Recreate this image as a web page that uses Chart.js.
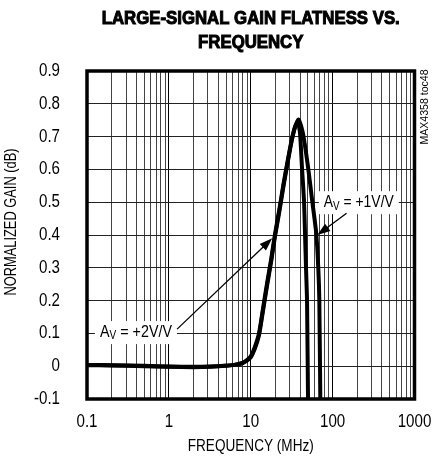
<!DOCTYPE html>
<html>
<head>
<meta charset="utf-8">
<script src="https://cdn.jsdelivr.net/npm/chart.js@4.4.1/dist/chart.umd.min.js"></script>
<style>
  html, body { margin: 0; padding: 0; background: #fff; }
  #c { display: block; }
</style>
</head>
<body>
<canvas id="c" width="434" height="457"></canvas>
<script>
const FONT = "'Liberation Sans', Arial, sans-serif";

// axis ticks
const X_DECADES = [0.1, 1, 10, 100, 1000];
const X_LABELS = ['0.1', '1', '10', '100', '1000'];
const Y_TICKS = [-0.1, 0, 0.1, 0.2, 0.3, 0.4, 0.5, 0.6, 0.7, 0.8, 0.9];
const Y_LABELS = ['-0.1', '0', '0.1', '0.2', '0.3', '0.4', '0.5', '0.6', '0.7', '0.8', '0.9'];

// AV = +2V/V (MHz, dB)
const FREQ_2V = [0.1, 0.2, 0.5, 1, 2, 3.2, 5, 6.3, 7.9, 8.9, 10, 11.2, 12.6, 14.1, 15.8, 17.8, 19.7, 22.4, 25.1, 28.2, 31.6, 34.7, 37.5, 40, 42.2, 44.7, 46, 47.3, 48.7, 50.1, 51];
const GAIN_2V = [0.003, 0.002, 0.0, -0.002, -0.003, -0.002, 0.001, 0.004, 0.01, 0.018, 0.03, 0.058, 0.1, 0.175, 0.252, 0.328, 0.4, 0.48, 0.555, 0.625, 0.69, 0.73, 0.746, 0.71, 0.607, 0.506, 0.405, 0.3, 0.2, -0.107, -0.2];

// AV = +1V/V (MHz, dB)
const FREQ_1V = [0.1, 0.2, 0.5, 1, 2, 3.2, 5, 6.3, 7.9, 8.9, 10, 11.2, 12.6, 14.1, 15.8, 17.8, 19.7, 22.4, 25.1, 28.2, 31.6, 34.7, 38.5, 43.4, 50.1, 56.2, 63.1, 66.8, 68.8, 70.8, 72];
const GAIN_1V = [0.004, 0.003, 0.001, -0.001, -0.002, -0.001, 0.002, 0.004, 0.009, 0.016, 0.027, 0.053, 0.094, 0.168, 0.245, 0.321, 0.393, 0.473, 0.549, 0.62, 0.686, 0.728, 0.752, 0.71, 0.607, 0.506, 0.405, 0.3, 0.2, -0.107, -0.2];

// annotation anchors, in data units
const LABEL_2V = { f: 0.144, g: 0.104 };
const ARROW_2V = { from: { f: 1.26, g: 0.113 }, to: { f: 18.3, g: 0.39 } };
const LABEL_1V = { f: 78, g: 0.5 };
const ARROW_1V = { from: { f: 148, g: 0.466 }, to: { f: 65, g: 0.40 } };

function pts(fs, gs) { return fs.map((f, i) => ({ x: f, y: gs[i] })); }

function isDecade(v) {
  const l = Math.log10(v);
  return Math.abs(l - Math.round(l)) < 1e-6;
}

// narrow text: scale horizontally, either to a target width or by a factor
function txt(ctx, s, x, y, o) {
  ctx.save();
  ctx.translate(x, y);
  if (o.rot) ctx.rotate(o.rot);
  ctx.font = `${o.weight || 'normal'} ${o.size}px ${FONT}`;
  const w = ctx.measureText(s).width;
  const sx = o.width ? o.width / w : (o.sx || 1);
  ctx.scale(sx, 1);
  ctx.textAlign = o.align || 'center';
  ctx.textBaseline = 'middle';
  ctx.fillStyle = '#000';
  ctx.fillText(s, 0, 0);
  if (o.stroke) { ctx.strokeStyle = '#000'; ctx.lineWidth = o.stroke; ctx.strokeText(s, 0, 0); }
  ctx.restore();
  return w * sx;
}

function drawAv(ctx, x, y, rest, width) {
  ctx.save();
  ctx.font = `17px ${FONT}`;
  const wA = ctx.measureText('A').width;
  const wRest = ctx.measureText(rest).width;
  ctx.font = `12px ${FONT}`;
  const wV = ctx.measureText('V').width;
  const sx = width / (wA + wV + wRest);
  ctx.fillStyle = '#fff';
  ctx.fillRect(x - 5, y - 11, width + 10, 23);
  ctx.translate(x, y);
  ctx.scale(sx, 1);
  ctx.fillStyle = '#000';
  ctx.textBaseline = 'middle';
  ctx.textAlign = 'left';
  ctx.font = `17px ${FONT}`;
  ctx.fillText('A', 0, 0);
  ctx.font = `12px ${FONT}`;
  ctx.fillText('V', wA, 4);
  ctx.font = `17px ${FONT}`;
  ctx.fillText(rest, wA + wV, 0);
  ctx.restore();
}

function drawArrow(ctx, x1, y1, x2, y2) {
  const a = Math.atan2(y2 - y1, x2 - x1);
  const len = 13, hw = 4.5;
  ctx.save();
  ctx.strokeStyle = '#000';
  ctx.fillStyle = '#000';
  ctx.lineWidth = 1.3;
  ctx.beginPath();
  ctx.moveTo(x1, y1);
  ctx.lineTo(x2 - Math.cos(a) * len * 0.8, y2 - Math.sin(a) * len * 0.8);
  ctx.stroke();
  ctx.beginPath();
  ctx.moveTo(x2, y2);
  ctx.lineTo(x2 - Math.cos(a) * len - Math.sin(a) * hw, y2 - Math.sin(a) * len + Math.cos(a) * hw);
  ctx.lineTo(x2 - Math.cos(a) * len + Math.sin(a) * hw, y2 - Math.sin(a) * len - Math.cos(a) * hw);
  ctx.closePath();
  ctx.fill();
  ctx.restore();
}

const decor = {
  id: 'decor',
  afterDatasetsDraw(chart) {
    const { ctx, chartArea: a, scales } = chart;
    const xs = scales.x, ys = scales.y;
    const px = (p) => [xs.getPixelForValue(p.f), ys.getPixelForValue(p.g)];

    // frame
    ctx.save();
    ctx.strokeStyle = '#000';
    ctx.lineWidth = 3.5;
    ctx.strokeRect(a.left, a.top, a.right - a.left, a.bottom - a.top);
    ctx.restore();

    // annotations
    let [lx, ly] = px(LABEL_2V);
    drawAv(ctx, lx, ly, ' = +2V/V', 72);
    let [x1, y1] = px(ARROW_2V.from), [x2, y2] = px(ARROW_2V.to);
    drawArrow(ctx, x1, y1, x2, y2);
    [lx, ly] = px(LABEL_1V);
    drawAv(ctx, lx, ly, ' = +1V/V', 70);
    [x1, y1] = px(ARROW_1V.from); [x2, y2] = px(ARROW_1V.to);
    drawArrow(ctx, x1, y1, x2, y2);
  },
  afterDraw(chart) {
    const { ctx, chartArea: a, scales } = chart;
    const cx = (a.left + a.right) / 2;

    // tick labels
    X_DECADES.forEach((v, i) => txt(ctx, X_LABELS[i], scales.x.getPixelForValue(v), 422, { size: 18, sx: 0.84 }));
    Y_TICKS.forEach((v, i) => txt(ctx, Y_LABELS[i], a.left - 27, scales.y.getPixelForValue(v), { size: 18, sx: 0.84, align: 'right' }));

    // title
    ctx.save();
    ctx.font = `bold 18px ${FONT}`;
    const t1 = 'LARGE-SIGNAL GAIN FLATNESS VS.';
    const sx = 298 / ctx.measureText(t1).width;
    ctx.restore();
    txt(ctx, t1, cx, 19, { size: 18, weight: 'bold', sx, stroke: 1 });
    txt(ctx, 'FREQUENCY', cx, 43, { size: 18, weight: 'bold', sx, stroke: 1 });

    // axis titles
    txt(ctx, 'FREQUENCY (MHz)', cx, 447, { size: 16, width: 126 });
    txt(ctx, 'NORMALIZED GAIN (dB)', 12, 222, { size: 16, width: 147, rot: -Math.PI / 2 });
    txt(ctx, 'MAX4358 toc48', 425, 107, { size: 11, width: 75, rot: -Math.PI / 2 });
  },
};

const line = (label, data) => ({
  label, data,
  borderColor: '#000', borderWidth: 4,
  pointRadius: 0, fill: false,
  tension: 0.2,
});

new Chart(document.getElementById('c'), {
  type: 'line',
  data: {
    datasets: [
      line('AV = +2V/V', pts(FREQ_2V, GAIN_2V)),
      line('AV = +1V/V', pts(FREQ_1V, GAIN_1V)),
    ],
  },
  options: {
    responsive: false,
    animation: false,
    devicePixelRatio: 1,
    parsing: false,
    layout: { padding: { left: 0, right: 19.5, top: 71, bottom: 0 } },
    plugins: { legend: { display: false }, tooltip: { enabled: false }, title: { display: false } },
    scales: {
      x: {
        type: 'logarithmic',
        min: X_DECADES[0], max: X_DECADES[X_DECADES.length - 1],
        afterBuildTicks: (s) => {
          const t = [];
          X_DECADES.slice(0, -1).forEach((d) => { for (let m = 1; m < 10; m++) t.push({ value: d * m }); });
          t.push({ value: X_DECADES[X_DECADES.length - 1] });
          s.ticks = t;
        },
        afterFit: (s) => { s.height = 58; },
        ticks: { display: false },
        grid: {
          drawTicks: false, lineWidth: 1,
          color: (c) => (c.tick && isDecade(c.tick.value) ? '#000' : '#444'),
        },
        border: { display: false },
      },
      y: {
        type: 'linear',
        min: Y_TICKS[0], max: Y_TICKS[Y_TICKS.length - 1],
        afterBuildTicks: (s) => { s.ticks = Y_TICKS.map((v) => ({ value: v })); },
        afterFit: (s) => { s.width = 87; },
        ticks: { display: false },
        grid: { drawTicks: false, lineWidth: 1, color: '#222' },
        border: { display: false },
      },
    },
  },
  plugins: [decor],
});
</script>
</body>
</html>
